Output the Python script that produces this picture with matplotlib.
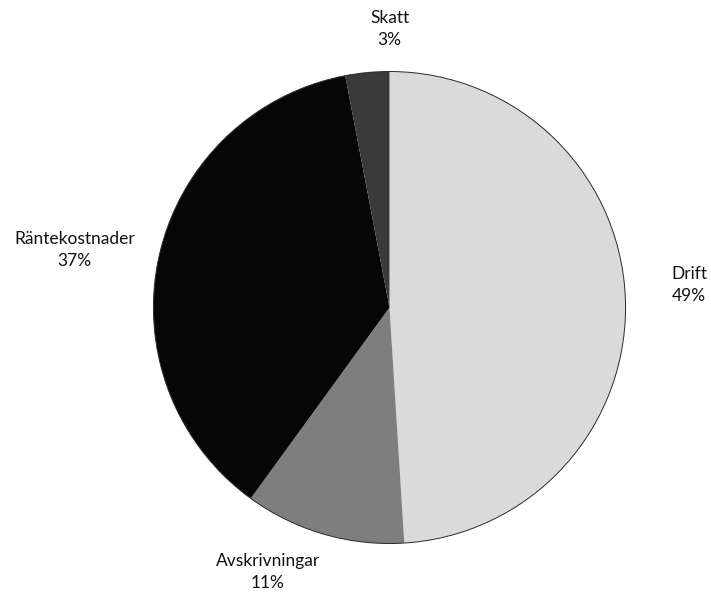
import matplotlib
matplotlib.use("Agg")
import matplotlib.pyplot as plt
from matplotlib.patches import Circle

categories = ["Drift", "Avskrivningar", "Räntekostnader", "Skatt"]
shares = [49, 11, 37, 3]
colors = ["#dadada", "#7e7e7e", "#060606", "#3a3a3a"]

# label anchor points in pie-radius units
label_pos = [(1.27, 0.095), (-0.515, -1.12), (-1.333, 0.244), (0.0, 1.18)]

plt.rcParams["font.family"] = ["Lato", "DejaVu Sans"]

fig = plt.figure(figsize=(7.11, 5.92), dpi=100)
ax = fig.add_axes([0, 0, 1, 1])
ax.pie(shares, colors=colors, startangle=90, counterclock=False,
       radius=1.0, wedgeprops=dict(linewidth=0))
# thin outline around the whole pie
ax.add_patch(Circle((0, 0), 1.0, fill=False, edgecolor="#2a2a2a", linewidth=0.7))
ax.set_xlim(-1.650, 1.362)
ax.set_ylim(-1.2055, 1.303)
ax.set_aspect("auto")
ax.axis("off")

for name, val, (x, y) in zip(categories, shares, label_pos):
    ax.text(x, y, f"{name}\n{val}%", ha="center", va="center",
            fontsize=12.5, color="#111111", linespacing=1.45)

fig.savefig("out.png", dpi=100, facecolor="white")
